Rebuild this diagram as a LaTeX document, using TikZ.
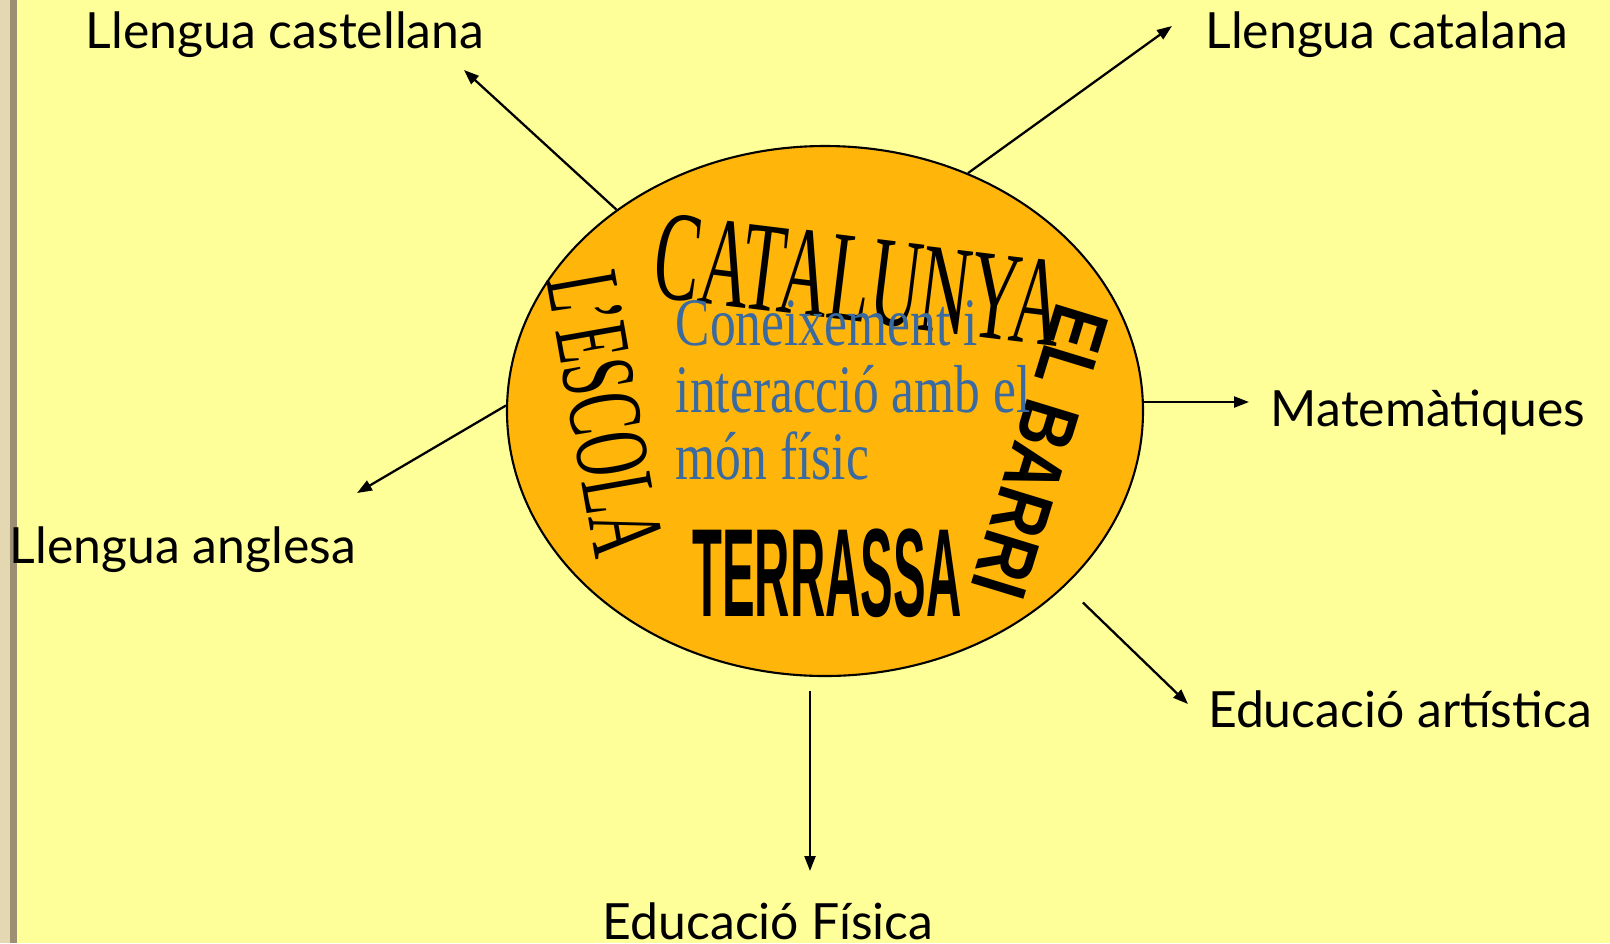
\documentclass[tikz,border=0pt]{standalone}
\usepackage{fontspec}
\setmainfont{Lato}
\newfontfamily\romanfont{Liberation Serif}
\newfontfamily\heavyfont{Liberation Sans}
\usetikzlibrary{arrows.meta,shapes.geometric}
\definecolor{paper}{HTML}{FFFF99}
\definecolor{disc}{HTML}{FFB50A}
\definecolor{inkblue}{HTML}{3B6AA0}
\definecolor{rim}{HTML}{E4D8B2}
\definecolor{rimline}{HTML}{9C8F73}
\tikzset{
    subject/.style={anchor=base, inner sep=0pt, font=\fontsize{14.2}{17}\selectfont},
    link/.style={-{Triangle[length=1.5mm,width=1.1mm]}, line width=0.65pt},
    word/.style={inner sep=0pt}
}

\begin{document}
\begin{tikzpicture}
            \useasboundingbox (0,0) rectangle (16.10,-9.43);
            \fill[paper]   (0,0)    rectangle (16.10,-9.43);
            \fill[rim]     (0,0)    rectangle (0.10,-9.43);
            \fill[rimline] (0.10,0) rectangle (0.17,-9.43);

            \node[ellipse, draw, line width=0.6pt, fill=disc, minimum width=6.36cm, minimum height=5.30cm, inner sep=0pt](O) at (8.25,-4.11) {};

            \node[word, rotate=-7](Cat)   at (8.59,-2.80) {\romanfont\fontsize{36.4}{40}\selectfont\scalebox{0.54}[1]{CATALUNYA}};
            \node[word, rotate=-80](Esc)  at (6.05,-4.14) {\romanfont\fontsize{30}{32}\selectfont\scalebox{0.57}[1]{L’ESCOLA}};
            \node[word, rotate=-107](Bar) at (10.40,-4.52) {\heavyfont\bfseries\fontsize{22.6}{24}\selectfont\scalebox{0.8}[1]{EL BARRI}};
            \node[word](Ter)              at (8.27,-5.73) {\heavyfont\bfseries\fontsize{35.7}{38}\selectfont\scalebox{0.39}[1]{TERRASSA}};
            \node[word, anchor=base west, text=inkblue](Con) at (6.75,-3.45)
                {\romanfont\fontsize{19.3}{18.9}\selectfont\scalebox{0.76}[1]{\begin{tabular}[t]{@{}l@{}}Coneixement i\\ interacció amb el\\ món físic\end{tabular}}};

            \node[subject](Cs) at (2.85,-0.48)  {Llengua castellana};
            \node[subject](Ct) at (13.87,-0.48) {Llengua catalana};
            \node[subject](Ma) at (14.28,-4.26) {Matemàtiques};
            \node[subject](An) at (1.83,-5.63)  {Llengua anglesa};
            \node[subject](Ar) at (14.00,-7.27) {Educació artística};
            \node[subject](Fi) at (7.68,-9.39)  {Educació Física};

            \coordinate (cs) at (4.64,-0.70);
            \coordinate (ct) at (11.72,-0.26);
            \coordinate (ma) at (12.49,-4.02);
            \coordinate (an) at (3.57,-4.93);
            \coordinate (ar) at (11.88,-7.04);
            \coordinate (fi) at (8.10,-8.71);

            \path
                (O.136)          edge [link]                      (cs)
                (O.59)           edge [link]                      (ct)
                (O.east |- ma)   edge [link]                      (ma)
                (O.179)          edge [link]                      (an)
                (O.-36)          edge [link, shorten <=0.24cm]    (ar)
                (O.south -| fi)  edge [link, shorten <=0.14cm]    (fi)
                ;
        \end{tikzpicture}
\end{document}
